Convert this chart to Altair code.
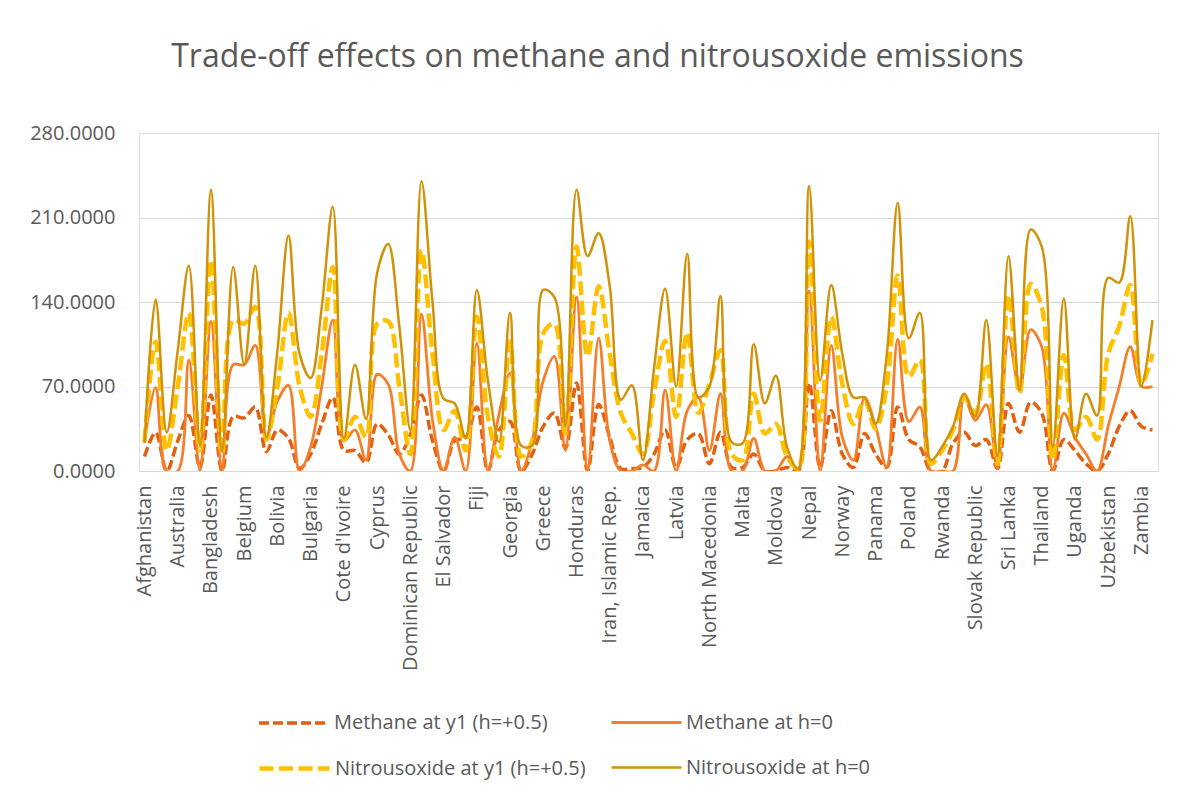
import altair as alt
import pandas as pd

countries = [
    "Afghanistan", "Albania", "Armenia", "Australia", "Austria", "Azerbaijan",
    "Bangladesh", "Barbados", "Belarus", "Belgium", "Benin", "Bhutan",
    "Bolivia", "Bosnia and Herzegovina", "Brazil", "Bulgaria", "Burkina Faso", "Cameroon",
    "Cote d'Ivoire", "Croatia", "Cuba", "Cyprus", "Czech Republic", "Denmark",
    "Dominican Republic", "Ecuador", "Egypt, Arab Rep.", "El Salvador", "Estonia", "Ethiopia",
    "Fiji", "Finland", "France", "Georgia", "Germany", "Ghana",
    "Greece", "Guatemala", "Guinea", "Honduras", "Hungary", "India",
    "Iran, Islamic Rep.", "Ireland", "Italy", "Jamaica", "Japan", "Kenya",
    "Latvia", "Lebanon", "Lithuania", "North Macedonia", "Madagascar", "Malawi",
    "Malta", "Mauritius", "Mexico", "Moldova", "Mongolia", "Morocco",
    "Nepal", "Netherlands", "Nicaragua", "Norway", "Oman", "Pakistan",
    "Panama", "Paraguay", "Peru", "Poland", "Portugal", "Romania",
    "Rwanda", "Senegal", "Serbia", "Slovak Republic", "Slovenia", "South Africa",
    "Sri Lanka", "Sweden", "Tanzania", "Thailand", "Togo", "Tunisia",
    "Uganda", "Ukraine", "Uruguay", "Uzbekistan", "Vietnam", "Yemen, Rep.",
    "Zambia", "Zimbabwe",
]

methane_y1 = [
    12, 32, 0, 25, 46, 3, 63, 0, 45, 44,
    53, 16, 34, 27, 2, 14, 39, 61, 17, 17,
    7, 39, 30, 14, 30, 63, 25, 0, 25, 28,
    53, 0, 34, 41, 0, 14, 37, 48, 19, 73,
    0, 55, 28, 2, 2, 3, 14, 34, 3, 26,
    31, 6, 32, 3, 3, 14, 0, 0, 3, 0,
    73, 3, 50, 14, 3, 31, 14, 3, 53, 26,
    20, 0, 0, 23, 32, 21, 26, 2, 56, 32,
    57, 48, 0, 26, 17, 6, 0, 14, 37, 50,
    37, 34,
]

methane_h0 = [
    25, 69, 0, 0, 92, 0, 124, 0, 88, 88,
    104, 28, 58, 71, 0, 20, 70, 125, 25, 34,
    9, 80, 72, 14, 0, 130, 42, 0, 28, 0,
    106, 0, 47, 81, 0, 25, 75, 95, 17, 144,
    0, 110, 25, 0, 0, 5, 0, 67, 0, 50,
    61, 17, 64, 0, 0, 27, 0, 0, 12, 0,
    149, 0, 104, 28, 9, 61, 37, 3, 109, 41,
    53, 0, 0, 0, 61, 42, 55, 2, 111, 67,
    117, 103, 0, 48, 28, 14, 0, 37, 70, 103,
    70, 70,
]

nitrous_y1 = [
    24, 107, 17, 70, 131, 17, 175, 14, 125, 122,
    136, 26, 70, 131, 70, 45, 97, 169, 26, 45,
    28, 122, 124, 70, 14, 183, 97, 34, 50, 17,
    128, 45, 12, 107, 12, 25, 114, 122, 31, 186,
    95, 153, 97, 48, 31, 14, 65, 108, 45, 115,
    48, 72, 100, 14, 9, 64, 31, 39, 12, 2,
    190, 42, 128, 72, 39, 59, 35, 70, 162, 78,
    92, 6, 17, 34, 61, 48, 89, 6, 146, 64,
    155, 136, 9, 96, 34, 45, 26, 97, 120, 154,
    72, 97,
]

nitrous_h0 = [
    23, 142, 32, 100, 170, 21, 233, 16, 169, 88,
    170, 28, 100, 195, 97, 77, 136, 219, 27, 88,
    43, 164, 188, 120, 34, 240, 140, 60, 56, 27,
    150, 75, 24, 131, 21, 21, 150, 144, 37, 233,
    178, 197, 153, 59, 71, 9, 85, 151, 70, 180,
    61, 70, 145, 24, 23, 105, 56, 79, 20, 2,
    236, 75, 154, 97, 61, 61, 39, 95, 222, 110,
    131, 9, 20, 37, 64, 45, 125, 12, 178, 67,
    200, 186, 20, 143, 26, 64, 46, 160, 156, 211,
    70, 125,
]

series_names = [
    "Methane at y1 (h=+0.5)",
    "Methane at h=0",
    "Nitrousoxide at y1 (h=+0.5)",
    "Nitrousoxide at h=0",
]
series_values = [methane_y1, methane_h0, nitrous_y1, nitrous_h0]
y_ticks = [0, 70, 140, 210, 280]
shown_labels = countries[0:91:3]

colors = ["#E2600F", "#F57E2B", "#FFC000", "#CF9208"]
dashes = [[10, 4], None, [14, 5.5], None]
widths = [3.5, 2.8, 4.5, 2.5]
legend_pos = [(118, 553), (471, 553), (118, 598), (471, 598)]

rows = []
for name, vals in zip(series_names, series_values):
    for c, v in zip(countries, vals):
        rows.append({"country": c, "series": name, "value": v})
df = pd.DataFrame(rows)

FONT = "Open Sans"
GRAY = "#595959"


def make_layer(k):
    name = series_names[k]
    mk = dict(interpolate="catmull-rom", strokeWidth=widths[k], clip=True)
    leg = dict(
        title=None, orient="none", legendX=legend_pos[k][0], legendY=legend_pos[k][1],
        symbolType="stroke", symbolSize=4900, symbolStrokeWidth=widths[k],
        labelFont=FONT, labelFontSize=20, labelColor=GRAY, labelOffset=3,
        labelLimit=500, padding=0,
    )
    if dashes[k] is not None:
        mk["strokeDash"] = dashes[k]
        leg["symbolDash"] = dashes[k]
    return (
        alt.Chart(df)
        .transform_filter(alt.datum.series == name)
        .mark_line(**mk)
        .encode(
            x=alt.X(
                "country:N", sort=countries, title=None,
                axis=alt.Axis(values=shown_labels, labelAngle=-90, ticks=False, grid=False,
                              domainColor="#D9D9D9", labelPadding=14, labelFontSize=20,
                              labelFont=FONT, labelColor=GRAY, labelLimit=300),
            ),
            y=alt.Y(
                "value:Q", title=None, scale=alt.Scale(domain=[0, 280], nice=False),
                axis=alt.Axis(values=y_ticks, format=".4f", ticks=False, domain=False,
                              gridColor="#D9D9D9", labelPadding=24, labelFontSize=20,
                              labelFont=FONT, labelColor=GRAY),
            ),
            color=alt.Color(
                "series:N",
                scale=alt.Scale(domain=[name], range=[colors[k]]),
                legend=alt.Legend(**leg),
            ),
        )
    )


chart = (
    alt.layer(*[make_layer(k) for k in range(4)])
    .resolve_scale(color="independent")
    .resolve_legend(color="independent")
    .properties(
        width=1019,
        height=338,
        autosize=alt.AutoSizeParams(type="none"),
        padding={"left": 131, "top": 125, "right": 9, "bottom": 318},
        title=alt.Title(
            "Trade-off effects on methane and nitrousoxide emissions",
            font=FONT, fontSize=32, fontWeight="normal", color=GRAY,
            anchor="middle", dx=-51, offset=49,
        ),
    )
    .configure_view(stroke=None)
    .configure(background="white")
)

chart.save("out.html", embed_options={"renderer": "svg", "actions": False})
